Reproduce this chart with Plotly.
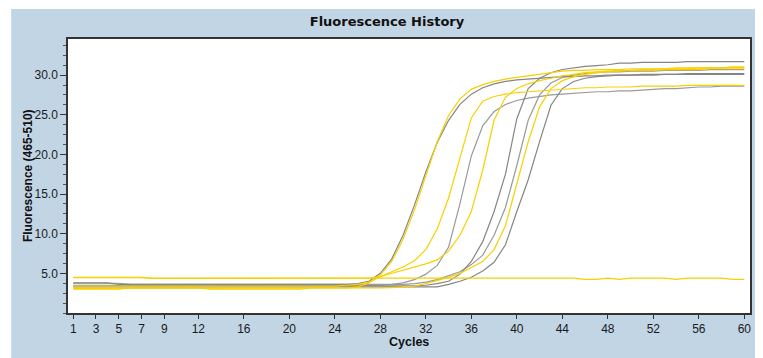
import plotly.graph_objects as go

cycles = list(range(1, 61))

# gray series
gray_a = [3.8,3.8,3.8,3.8,3.6,3.6,3.6,3.6,3.6,3.6,
          3.6,3.6,3.6,3.6,3.6,3.6,3.6,3.6,3.6,3.6,
          3.6,3.6,3.6,3.6,3.6,3.7,4.0,5.0,6.8,9.8,
          13.6,17.8,21.5,24.3,26.3,27.6,28.4,28.9,29.2,29.4,
          29.5,29.6,29.7,29.8,29.8,29.9,29.9,30.0,30.0,30.0,
          30.1,30.1,30.1,30.1,30.2,30.2,30.2,30.2,30.2,30.2]
gray_b = [3.5,3.5,3.5,3.5,3.5,3.5,3.5,3.5,3.5,3.5,
          3.5,3.5,3.5,3.5,3.5,3.5,3.5,3.5,3.5,3.5,
          3.5,3.5,3.5,3.5,3.5,3.5,3.5,3.5,3.6,3.8,
          4.2,4.9,6.0,8.3,13.8,19.8,23.6,25.4,26.3,26.8,
          27.1,27.3,27.5,27.6,27.7,27.8,27.9,27.9,28.0,28.0,
          28.1,28.2,28.3,28.3,28.4,28.5,28.5,28.6,28.6,28.6]
gray_c = [3.4,3.4,3.4,3.4,3.4,3.4,3.4,3.4,3.4,3.4,
          3.4,3.4,3.4,3.4,3.4,3.4,3.4,3.4,3.4,3.4,
          3.4,3.4,3.4,3.4,3.4,3.4,3.4,3.4,3.4,3.4,
          3.45,3.5,3.7,4.0,4.9,6.5,9.0,12.8,17.5,24.5,
          28.3,29.6,30.3,30.7,30.9,31.1,31.2,31.3,31.5,31.5,
          31.6,31.6,31.6,31.6,31.7,31.7,31.7,31.7,31.7,31.7]
gray_d = [3.75,3.75,3.75,3.75,3.75,3.6,3.6,3.6,3.6,3.6,
          3.6,3.6,3.6,3.6,3.6,3.6,3.6,3.6,3.6,3.6,
          3.6,3.6,3.6,3.6,3.6,3.6,3.6,3.6,3.6,3.6,
          3.7,3.9,4.2,4.7,5.2,6.1,7.3,9.8,13.3,18.6,
          24.3,27.5,29.0,29.7,30.0,30.2,30.3,30.4,30.4,30.5,
          30.5,30.5,30.6,30.6,30.6,30.6,30.7,30.7,30.7,30.7]
gray_e = [3.3,3.3,3.3,3.3,3.3,3.3,3.3,3.3,3.3,3.3,
          3.3,3.3,3.3,3.3,3.3,3.3,3.3,3.3,3.3,3.3,
          3.3,3.3,3.3,3.3,3.3,3.3,3.3,3.3,3.3,3.3,
          3.3,3.3,3.3,3.6,4.0,4.5,5.3,6.4,8.6,12.8,
          16.8,21.6,26.2,28.3,29.2,29.6,29.8,29.9,30.0,30.0,
          30.0,30.0,30.1,30.1,30.1,30.1,30.1,30.1,30.1,30.1]

# yellow series
yellow_a = [3.0,3.0,3.0,3.0,3.0,3.15,3.15,3.15,3.15,3.15,
            3.15,3.15,3.0,3.0,3.0,3.0,3.0,3.0,3.0,3.0,
            3.0,3.15,3.15,3.15,3.15,3.3,3.8,4.8,6.5,9.3,
            13.0,17.3,21.6,24.9,27.0,28.2,28.8,29.2,29.5,29.7,
            29.9,30.1,30.3,30.5,30.6,30.6,30.7,30.7,30.7,30.8,
            30.8,30.8,30.8,30.9,30.9,30.9,30.9,30.9,31.0,31.0]
yellow_b = [3.4,3.4,3.4,3.4,3.4,3.4,3.4,3.4,3.4,3.4,
            3.4,3.4,3.4,3.4,3.4,3.4,3.4,3.4,3.4,3.4,
            3.4,3.4,3.4,3.4,3.5,3.6,3.9,4.6,5.2,5.8,
            6.6,8.0,10.6,14.5,19.6,24.6,26.7,27.3,27.6,27.8,
            27.9,28.0,28.1,28.2,28.3,28.4,28.4,28.5,28.5,28.5,
            28.6,28.6,28.6,28.6,28.7,28.7,28.7,28.7,28.7,28.7]
yellow_c = [4.45,4.45,4.45,4.45,4.45,4.45,4.45,4.35,4.35,4.35,
            4.35,4.35,4.35,4.35,4.35,4.35,4.35,4.35,4.35,4.35,
            4.35,4.35,4.35,4.35,4.35,4.35,4.4,4.6,5.0,5.4,
            5.8,6.2,6.7,7.8,9.8,12.8,18.0,24.3,27.2,28.3,
            28.9,29.3,29.6,29.9,30.1,30.3,30.4,30.5,30.6,30.6,
            30.7,30.7,30.8,30.8,30.8,30.9,30.9,30.9,31.0,31.0]
yellow_d = [3.1,3.1,3.1,3.1,3.1,3.1,3.1,3.1,3.1,3.1,
            3.1,3.1,3.1,3.1,3.1,3.1,3.1,3.1,3.1,3.1,
            3.1,3.1,3.1,3.1,3.1,3.1,3.1,3.15,3.2,3.3,
            3.4,3.7,4.1,4.5,5.0,5.7,6.5,8.0,11.0,16.3,
            21.6,26.0,28.3,29.3,29.8,30.1,30.3,30.4,30.5,30.6,
            30.6,30.6,30.7,30.7,30.7,30.7,30.8,30.8,30.8,30.8]
yellow_neg = [4.5,4.5,4.5,4.5,4.5,4.5,4.5,4.4,4.4,4.4,
              4.4,4.4,4.4,4.4,4.4,4.4,4.4,4.4,4.4,4.4,
              4.4,4.4,4.4,4.4,4.4,4.4,4.4,4.4,4.4,4.4,
              4.4,4.4,4.4,4.4,4.4,4.4,4.4,4.4,4.4,4.4,
              4.4,4.4,4.4,4.4,4.4,4.25,4.25,4.4,4.25,4.4,
              4.4,4.4,4.4,4.25,4.4,4.4,4.4,4.4,4.25,4.25]

x_tickvals = [1, 3, 5, 7, 9, 12, 16, 20, 24, 28, 32, 36, 40, 44, 48, 52, 56, 60]
y_tickvals = [5, 10, 15, 20, 25, 30]
y_ticktext = ["5.0", "10.0", "15.0", "20.0", "25.0", "30.0"]

YELLOW = "#F8D000"
GRAY1 = "#858585"
GRAY2 = "#9a9a9a"

series = [
    (gray_b, GRAY2), (gray_e, GRAY1), (gray_d, GRAY2), (gray_c, GRAY1), (gray_a, GRAY1),
    (yellow_neg, YELLOW), (yellow_b, YELLOW), (yellow_c, YELLOW), (yellow_d, YELLOW), (yellow_a, YELLOW),
]

fig = go.Figure()
for vals, col in series:
    fig.add_trace(go.Scatter(x=cycles, y=vals, mode="lines",
                             line=dict(color=col, width=1.2), showlegend=False,
                             hoverinfo="skip"))

# page has an 8px body margin; the figure sits at (8, 8)
OFF = 8
W, H = 763 - OFF, 358 - OFF
L, R, T, B = 68 - OFF, 11, 39 - OFF, 45
pw, ph = W - L - R, H - T - B

tick_font = dict(family="Liberation Sans, Arial, sans-serif", size=12, color="#1a1a1a")

fig.update_layout(
    width=W, height=H,
    margin=dict(l=L, r=R, t=T, b=B, pad=0),
    paper_bgcolor="#C2D5E5",
    plot_bgcolor="white",
    title=dict(text="Fluorescence History", x=(387 - OFF) / W, xref="container", xanchor="center",
               y=1 - (21 - OFF) / H, yref="container", yanchor="middle",
               font=dict(family="DejaVu Sans", size=13, color="#111111", weight="bold")),
    xaxis=dict(range=[0.54, 60.5], tickmode="array", tickvals=x_tickvals,
               ticks="outside", ticklen=4, tickcolor="#333333", tickwidth=1,
               showgrid=False, zeroline=False, showline=True, linecolor="#333333",
               linewidth=1.5, mirror=True, tickfont=tick_font),
    yaxis=dict(range=[0, 34.55], tickmode="array", tickvals=y_tickvals, ticktext=y_ticktext,
               ticks="outside", ticklen=6, tickcolor="#333333", tickwidth=1,
               minor=dict(dtick=1.25, tick0=0, ticks="outside", ticklen=3, tickcolor="#555555"),
               showgrid=False, zeroline=False, showline=True, linecolor="#333333",
               linewidth=1.5, mirror=True, tickfont=tick_font),
    annotations=[
        dict(text="<b>Cycles</b>", xref="paper", yref="paper", x=(410 - 68) / pw,
             y=(313 - 342) / ph, xanchor="center", yanchor="middle", showarrow=False,
             font=dict(family="Liberation Sans, Arial, sans-serif", size=12.5, color="#111111")),
        dict(text="<b>Fluorescence (465-510)</b>", xref="paper", yref="paper",
             x=(28 - 68) / pw, y=0.5, xanchor="center", yanchor="middle", textangle=-90,
             showarrow=False,
             font=dict(family="Liberation Sans, Arial, sans-serif", size=12, color="#111111")),
    ],
    shapes=[
        dict(type="rect", xref="paper", yref="paper", x0=-0.2, x1=1.2,
             y0=(313 - 9) / ph, y1=1.3, fillcolor="white", line=dict(width=0), layer="below"),
        dict(type="rect", xref="paper", yref="paper", x0=-0.2, x1=(11 - 68) / pw,
             y0=-0.3, y1=1.3, fillcolor="white", line=dict(width=0), layer="below"),
    ],
)

fig.write_html("out.html")
